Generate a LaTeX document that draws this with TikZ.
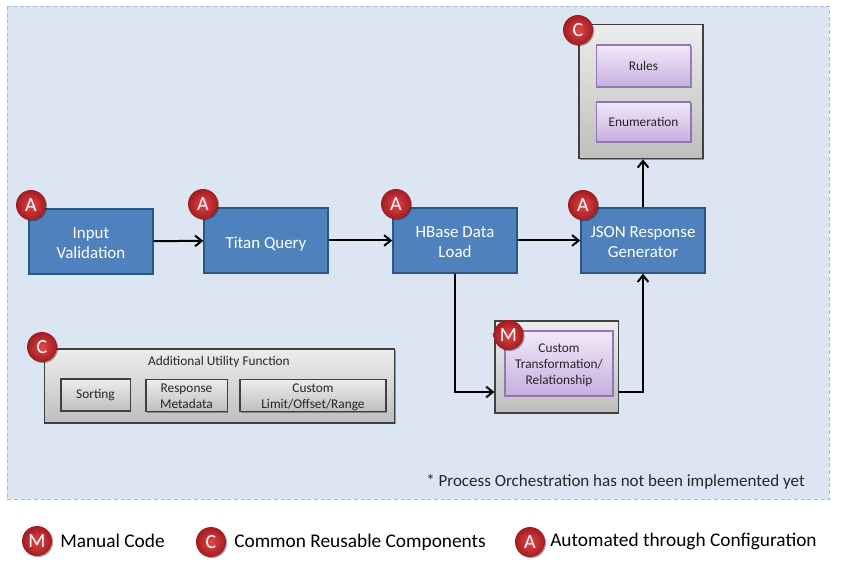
\documentclass[tikz,border=0pt]{standalone}
\usepackage{fontspec}
\setmainfont{Carlito}
\usetikzlibrary{arrows.meta, positioning, shadows, calc}

\definecolor{panelfill}{HTML}{DCE6F2}
\definecolor{paneldraw}{HTML}{A9BBD3}
\definecolor{stepfill}{HTML}{4F81BD}
\definecolor{stepdraw}{HTML}{2C5684}
\definecolor{lilactop}{HTML}{F1EAF8}
\definecolor{lilacbot}{HTML}{C6AEE0}
\definecolor{lilacdraw}{HTML}{8F78B4}
\definecolor{graytop}{HTML}{EDEDED}
\definecolor{graybot}{HTML}{BEBEBE}
\definecolor{badgelight}{HTML}{E2474A}
\definecolor{badgedark}{HTML}{A31B1F}
\definecolor{inktext}{HTML}{262626}

\newcommand{\dropby}[1]{\rule{0pt}{#1}}

\tikzset{
    softshadow/.style={drop shadow={shadow xshift=0.8pt, shadow yshift=-0.8pt, opacity=0.35, fill=black}},
    flowbox/.style={draw=stepdraw, line width=1pt, fill=stepfill, text=white, align=center,
        font=\fontsize{12.7}{14.5}\selectfont, inner sep=0pt},
    holder/.style={draw=black!75, line width=0.8pt, top color=graytop, bottom color=graybot,
        softshadow, align=center, inner sep=0pt},
    lilacbox/.style={draw=lilacdraw, line width=0.9pt, top color=lilactop, bottom color=lilacbot,
        softshadow, text=inktext, align=center, font=\fontsize{10}{12}\selectfont, inner sep=0pt},
    utilbox/.style={holder, text=inktext, font=\fontsize{10}{12}\selectfont},
    badge/.style={circle, shading=radial, inner color=badgelight, outer color=badgedark, text=white,
        minimum size=22.5pt, inner sep=0pt, font=\fontsize{15}{15}\selectfont, softshadow},
    legendtext/.style={anchor=west, inner sep=0pt, text=black, font=\fontsize{14.5}{16}\selectfont},
    link/.style={-{Straight Barb[length=5pt,width=8pt]}, line width=1.5pt, black},
}

\begin{document}
\begin{tikzpicture}[x=0.75pt, y=-0.75pt]
    \useasboundingbox (0,0) rectangle (842,573);

    % Panel
    \fill[white] (0,0) rectangle (842,573);
    \draw[paneldraw, fill=panelfill, densely dashed] (7,6) rectangle (829,499);

    % Main flow
    \node[flowbox, minimum width=93pt, minimum height=48.8pt] (input) at (91,241.5) {\dropby{10.5pt}Input\\Validation};
    \node[flowbox, minimum width=93pt, minimum height=48.8pt] (titan) at (266,240.5) {\dropby{13.5pt}Titan Query};
    \node[flowbox, minimum width=93pt, minimum height=48.8pt] (hbase) at (455,240.5) {\dropby{10.5pt}HBase Data\\Load};
    \node[flowbox, minimum width=93pt, minimum height=48.8pt] (json) at (643,240.5) {\dropby{10.5pt}JSON Response\\Generator};

    % Rules and enumeration
    \node[holder, minimum width=93pt, minimum height=101pt] (common) at (641,91.5) {};
    \node[lilacbox, minimum width=71pt, minimum height=31.5pt] (rules) at (643.5,66) {Rules};
    \node[lilacbox, minimum width=71pt, minimum height=30pt] (enum) at (643.5,122) {Enumeration};

    % Custom transformation
    \node[holder, minimum width=92.3pt, minimum height=69pt] (custom) at (556.5,367) {};
    \node[lilacbox, minimum width=81pt, minimum height=48.8pt] (transform) at (559,363.5) {\dropby{9.5pt}Custom\\Transformation/\\Relationship};

    % Utility functions
    \node[holder, minimum width=263pt, minimum height=55.5pt] (utility) at (219.5,386) {};
    \node[anchor=center, text=inktext, font=\fontsize{10}{12}\selectfont, inner sep=0pt] (utiltitle) at (219,361.5) {Additional Utility Function};
    \node[utilbox, minimum width=51.8pt, minimum height=24pt] (sorting) at (95.5,395) {Sorting};
    \node[utilbox, minimum width=60.8pt, minimum height=24.5pt] (metadata) at (186.5,395.5) {\dropby{8pt}Response\\Metadata};
    \node[utilbox, minimum width=109.5pt, minimum height=24.5pt] (limit) at (313,395.5) {\dropby{9.5pt}Custom\\Limit/Offset/Range};

    % Connectors
    \draw[link] (input) -- (titan);
    \draw[link] (titan) -- (hbase);
    \draw[link] (hbase) -- (json);
    \draw[link] (json.north) -- (json.north |- common.south);
    \draw[link] (hbase.south) |- ($(custom.west)+(0,25)$);
    \draw[link] ($(custom.east)+(0,25)$) -| (json.south);

    % Badges
    \node[badge] (badgeinput) at (31,205) {A};
    \node[badge] (badgetitan) at (203,204) {A};
    \node[badge] (badgehbase) at (396,204) {A};
    \node[badge] (badgejson) at (583,205) {A};
    \node[badge] (badgecommon) at (578,30) {C};
    \node[badge] (badgeutility) at (42,347) {C};
    \node[badge] (badgecustom) at (508.5,335) {M};

    % Footnote
    \node[anchor=west, inner sep=0pt, text=inktext, font=\fontsize{12.75}{15}\selectfont] (note) at (426,482) {* Process Orchestration has not been implemented yet};

    % Legend
    \node[badge] (keym) at (37,541) {M};
    \node[legendtext] (keymtext) at (60,541) {Manual Code};
    \node[badge] (keyc) at (211,542) {C};
    \node[legendtext] (keyctext) at (234,542) {Common Reusable Components};
    \node[badge] (keya) at (530,542) {A};
    \node[legendtext] (keyatext) at (550,541) {Automated through Configuration};
\end{tikzpicture}
\end{document}
